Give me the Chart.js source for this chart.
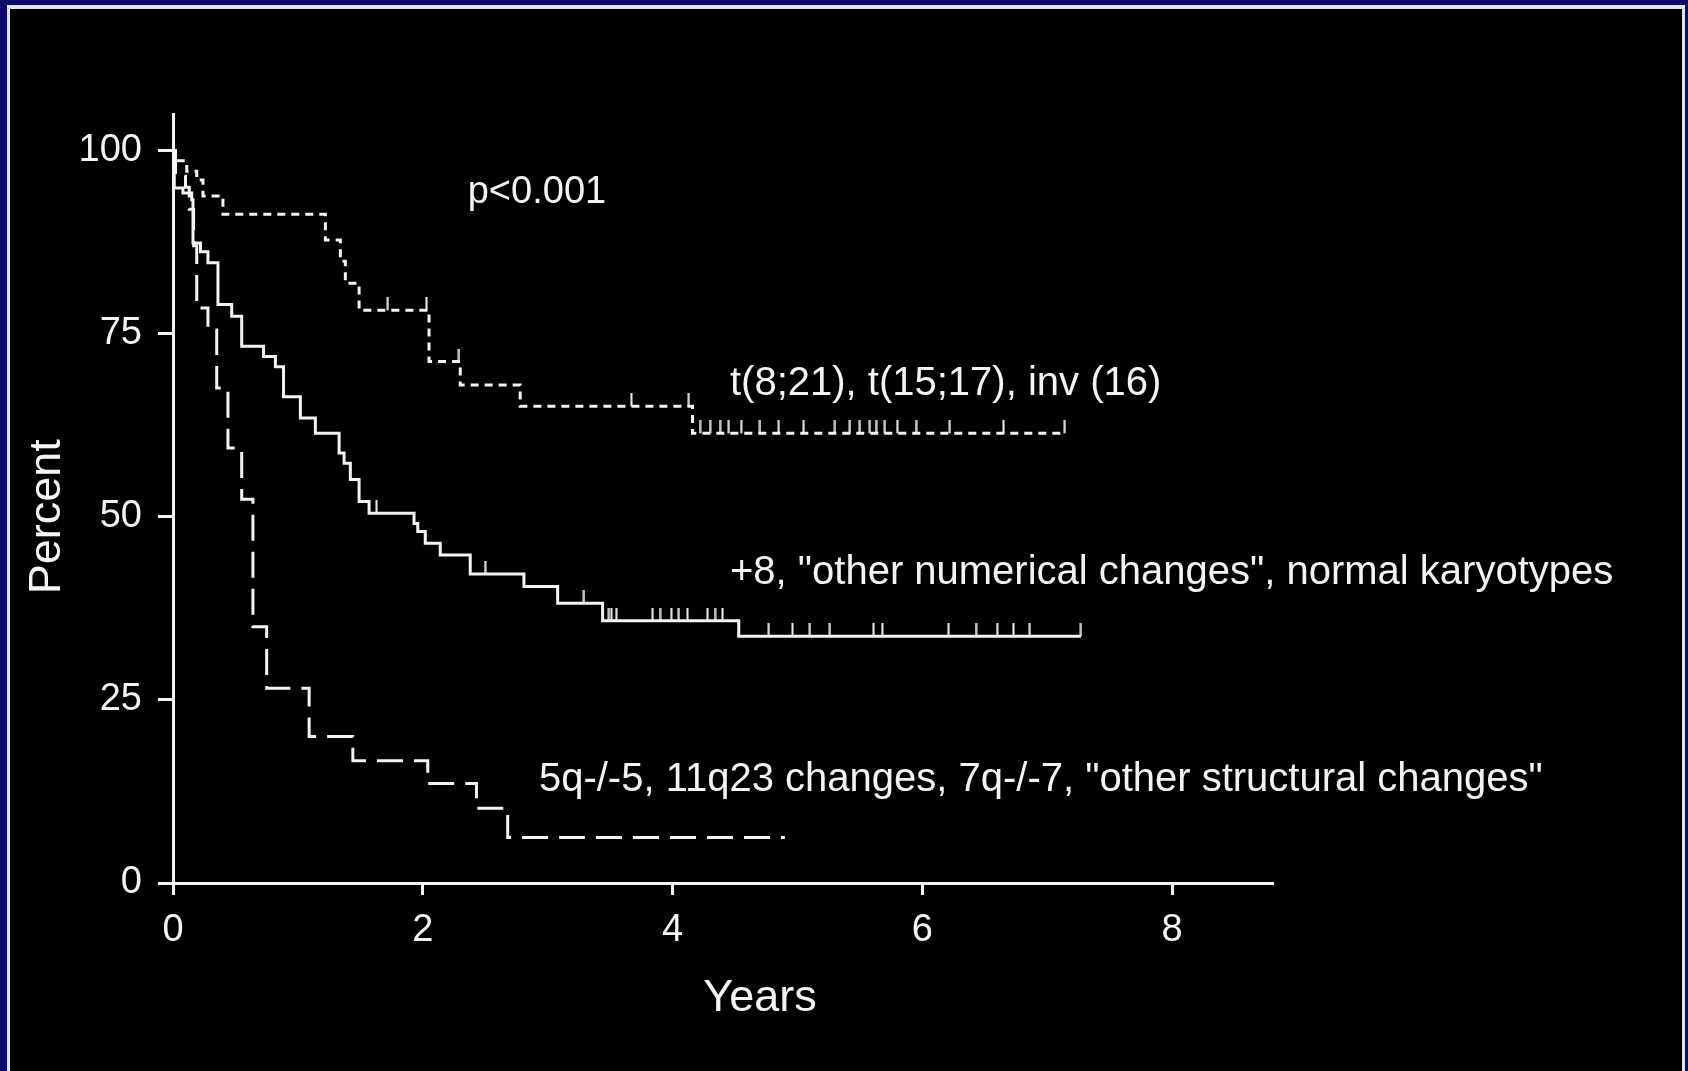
<!DOCTYPE html>
<html>
<head>
<meta charset="utf-8">
<script src="https://cdn.jsdelivr.net/npm/chart.js@4.4.1/dist/chart.umd.min.js"></script>
<style>
  html, body { margin: 0; padding: 0; }
  body { width: 1688px; height: 1071px; background: #0b0b6b; position: relative; overflow: hidden; }
  #frame {
    position: absolute; left: 7px; top: 5px; width: 1678px; height: 1066px;
    box-sizing: border-box; background: #000;
    border-left: 3px solid #e4e4ec; border-top: 4px solid #e4e4ec; border-right: 3px solid #e4e4ec;
  }
  #chart { position: absolute; left: 0; top: 0; }
</style>
</head>
<body>
<div id="frame"></div>
<canvas id="chart" width="1688" height="1071"></canvas>
<script>
// eixos
const xTicks = [0, 2, 4, 6, 8];
const yTicks = [0, 25, 50, 75, 100];

// t(8;21), t(15;17), inv(16)  (pontilhado)
const favTime = [0, 0.02, 0.11, 0.19, 0.24, 0.40, 1.22, 1.34, 1.38, 1.49, 2.05, 2.30, 2.78, 4.16, 7.14];
const favSurv = [100, 98.6, 97.2, 96.0, 93.8, 91.3, 87.8, 84.9, 81.9, 78.2, 71.2, 68.0, 65.1, 61.4, 61.4];
const favCensor = [1.72, 2.03, 2.29, 3.67, 4.13, 4.22, 4.30, 4.38, 4.45, 4.55, 4.70, 4.85, 5.05, 5.30, 5.42, 5.50, 5.58, 5.63, 5.70, 5.80, 5.95, 6.22, 6.65, 7.14];

// +8, outras numericas, cariotipo normal  (linha cheia)
const intTime = [0, 0.01, 0.08, 0.15, 0.16, 0.22, 0.28, 0.36, 0.47, 0.55, 0.725, 0.82, 0.885, 1.02, 1.14, 1.33, 1.37, 1.42, 1.49, 1.57, 1.93, 1.96, 2.02, 2.14, 2.38, 2.81, 3.08, 3.44, 4.53, 7.27];
const intSurv = [100, 94.9, 94.2, 93.3, 87.4, 86.2, 84.7, 79.0, 77.4, 73.3, 71.9, 70.5, 66.4, 63.5, 61.4, 58.7, 57.3, 55.1, 52.1, 50.5, 49.1, 48.0, 46.4, 44.8, 42.2, 40.5, 38.2, 35.8, 33.7, 33.7];
const intCensor = [1.63, 2.50, 3.29, 3.49, 3.51, 3.55, 3.84, 3.90, 3.99, 4.05, 4.12, 4.28, 4.34, 4.40, 4.77, 4.96, 5.10, 5.26, 5.61, 5.68, 6.21, 6.43, 6.60, 6.73, 6.86, 7.27];

// 5q-/-5, 11q23, 7q-/-7, outras estruturais  (tracejado longo)
const unfTime = [0, 0.02, 0.10, 0.13, 0.165, 0.19, 0.28, 0.35, 0.44, 0.55, 0.64, 0.75, 1.09, 1.44, 2.04, 2.43, 2.68, 4.90];
const unfSurv = [100, 96.5, 95.0, 92.0, 87.0, 78.5, 75.5, 67.6, 59.4, 52.4, 35.0, 26.6, 20.0, 16.7, 13.6, 10.2, 6.2, 6.2];

const pValue = 'p<0.001';
const groupNames = [
    't(8;21), t(15;17), inv (16)',
    '+8, "other numerical changes", normal karyotypes',
    '5q-/-5, 11q23 changes, 7q-/-7, "other structural changes"'
];

// onde ficam os textos (em anos / percentual)
const noteLayout = [
    { text: pValue, x: 2.36, y: 94.3, size: 38 },
    { text: groupNames[0], x: 4.46, y: 68.2, size: 40 },
    { text: groupNames[1], x: 4.46, y: 42.3, size: 40 },
    { text: groupNames[2], x: 2.93, y: 14.1, size: 40 }
];

const FONT = '"Liberation Sans", Arial, Helvetica, sans-serif';
const INK = '#f4f4f4';

function points(ts, ss) {
    return ts.map((t, i) => ({ x: t, y: ss[i] }));
}

function levelAt(ts, ss, t) {
    let v = ss[0];
    for (let i = 0; i < ts.length; i++) {
        if (ts[i] <= t) v = ss[i];
    }
    return v;
}

// marca de censura: risquinho vertical acima da curva
const tick = document.createElement('canvas');
tick.width = 3;
tick.height = 26;
const tctx = tick.getContext('2d');
tctx.fillStyle = INK;
tctx.fillRect(0.5, 0, 2, 13);

function stepLine(ts, ss, dash) {
    return {
        type: 'line',
        data: points(ts, ss),
        stepped: 'before',
        borderColor: INK,
        borderWidth: 3,
        borderDash: dash,
        borderCapStyle: 'butt',
        pointRadius: 0,
        fill: false
    };
}

function censors(ts, ss, cs) {
    return {
        type: 'scatter',
        data: cs.map(t => ({ x: t, y: levelAt(ts, ss, t) })),
        pointStyle: tick,
        pointRadius: 2,
        showLine: false
    };
}

const notesPlugin = {
    id: 'notes',
    afterDraw(chart) {
        const { ctx, scales: { x, y } } = chart;
        ctx.save();
        ctx.fillStyle = INK;
        ctx.textBaseline = 'middle';
        ctx.textAlign = 'left';
        noteLayout.forEach(n => {
            ctx.font = n.size + 'px ' + FONT;
            ctx.fillText(n.text, x.getPixelForValue(n.x), y.getPixelForValue(n.y));
        });

        // titulos dos eixos
        ctx.textAlign = 'center';
        ctx.font = '45px ' + FONT;
        ctx.fillText('Years', x.getPixelForValue(4.7), 999);
        ctx.translate(48, y.getPixelForValue(50));
        ctx.rotate(-Math.PI / 2);
        ctx.fillText('Percent', 0, 0);
        ctx.restore();
    }
};

new Chart(document.getElementById('chart'), {
    data: {
        datasets: [
            stepLine(favTime, favSurv, [8, 6]),
            stepLine(intTime, intSurv, []),
            stepLine(unfTime, unfSurv, [26, 11]),
            censors(favTime, favSurv, favCensor),
            censors(intTime, intSurv, intCensor)
        ]
    },
    options: {
        responsive: false,
        animation: false,
        devicePixelRatio: 1,
        layout: { padding: { left: 0, right: 416, top: 114, bottom: 0 } },
        plugins: { legend: { display: false }, tooltip: { enabled: false } },
        scales: {
            x: {
                type: 'linear',
                min: 0,
                max: 8.8,
                afterFit: s => { s.height = 188; },
                afterBuildTicks: s => { s.ticks = xTicks.map(v => ({ value: v })); },
                border: { display: true, color: INK, width: 3 },
                grid: { drawOnChartArea: false, drawTicks: true, tickLength: 12, color: INK, lineWidth: 3 },
                ticks: { color: INK, font: { family: FONT, size: 38 }, padding: 13, maxRotation: 0 }
            },
            y: {
                type: 'linear',
                min: 0,
                max: 105,
                afterFit: s => { s.width = 173; },
                afterBuildTicks: s => { s.ticks = yTicks.map(v => ({ value: v })); },
                border: { display: true, color: INK, width: 3 },
                grid: { drawOnChartArea: false, drawTicks: true, tickLength: 15, color: INK, lineWidth: 3 },
                ticks: { color: INK, font: { family: FONT, size: 38 }, padding: 16 }
            }
        }
    },
    plugins: [notesPlugin]
});
</script>
</body>
</html>
